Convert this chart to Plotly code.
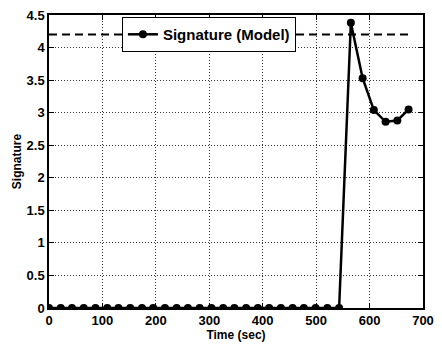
import plotly.graph_objects as go

time_s = [0, 22, 43, 65, 87, 109, 130, 152, 174, 195, 217, 239, 260, 282, 304, 326,
          347, 369, 391, 412, 434, 456, 477, 499, 521, 543, 565, 587, 608, 630, 652, 673]
signature = [0]*26 + [4.38, 3.53, 3.04, 2.86, 2.88, 3.05]
threshold_x = [0, 673]
threshold_y = [4.2, 4.2]
x_ticks = [0, 100, 200, 300, 400, 500, 600, 700]
y_ticks = [0, 0.5, 1, 1.5, 2, 2.5, 3, 3.5, 4, 4.5]

fam = "Liberation Sans, Arial, sans-serif"
font = dict(family=fam, size=13, color="black", weight="bold")

fig = go.Figure()
fig.add_trace(go.Scatter(x=threshold_x, y=threshold_y, mode="lines", showlegend=False,
                         line=dict(color="black", width=2, dash="8px,5px")))
fig.add_trace(go.Scatter(x=time_s, y=signature, mode="lines+markers", name="Signature (Model)",
                         line=dict(color="black", width=2.5),
                         marker=dict(color="black", size=8, symbol="circle")))

axis_common = dict(showline=True, linecolor="black", linewidth=1.5, mirror="ticks",
                   ticks="inside", ticklen=5, tickcolor="black", tickwidth=1,
                   showgrid=True, gridcolor="#333", gridwidth=1, griddash="1px,2px",
                   zeroline=False, tickfont=font)

fig.update_layout(
    width=442, height=350,
    margin=dict(l=49, r=13, t=8, b=42),
    paper_bgcolor="white", plot_bgcolor="white",
    font=font,
    xaxis=dict(range=[0, 700], tickvals=x_ticks, ticktext=[str(v) for v in x_ticks],
               title=dict(text="Time (sec)", font=dict(family=fam, size=12, color="black", weight="bold"), standoff=0),
               **axis_common),
    yaxis=dict(range=[0, 4.5], tickvals=y_ticks, ticktext=[f"{v:g}" for v in y_ticks],
               title=dict(text="Signature", font=dict(family=fam, size=12, color="black", weight="bold"), standoff=2),
               **axis_common),
    legend=dict(x=0.195, y=0.993, xanchor="left", yanchor="top",
                bgcolor="white", bordercolor="black", borderwidth=1,
                font=dict(family=fam, size=15, color="black", weight="bold"),
                itemwidth=30, tracegroupgap=0),
)
fig.write_html("out.html")
